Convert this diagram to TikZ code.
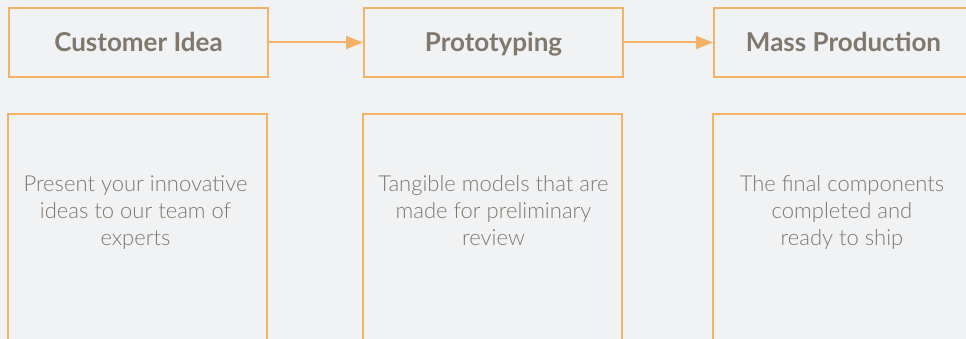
\documentclass[tikz,border=0pt]{standalone}
\usepackage{fontspec}
\setmainfont{Lato}
\newfontfamily\lightfont{Lato Light}
\usetikzlibrary{arrows.meta}
\definecolor{bg}{RGB}{241,242,244}
\definecolor{edge}{RGB}{244,178,102}
\definecolor{ink}{RGB}{128,120,108}
\tikzset{
  head/.style={draw=edge, line width=2pt, minimum width=259pt, minimum height=69pt, inner sep=0pt,
    text=ink, font=\fontsize{26}{30}\selectfont\bfseries, text height=25pt, text depth=6pt},
  panel/.style={draw=edge, line width=2pt, minimum width=259pt, minimum height=240pt, inner sep=0pt, anchor=north},
  body/.style={text=ink, font=\lightfont\fontsize{22}{27}\selectfont, align=center, anchor=north, inner sep=0pt},
  link/.style={draw=edge, line width=2pt, -{Triangle[length=17pt,width=13pt]}}
}
\begin{document}
\begin{tikzpicture}[x=1pt,y=-1pt]
\fill[bg] (0,0) rectangle (966,339);
\useasboundingbox (0,0) rectangle (966,339);
\node[head] (h1) at (138.5,42.5) {Customer Idea};
\node[head] (h2) at (493.5,42.5) {Prototyping};
\node[head] (h3) at (843.5,42.5) {Mass Production};
\node[panel] (p1) at (137.5,113) {};
\node[panel] (p2) at (492.5,113) {};
\node[panel] (p3) at (842.5,113) {};
\node[body] (t1) at (135.5,175) {Present your innovative\\ideas to our team of\\experts};
\node[body] (t2) at (493.5,175) {Tangible models that are\\made for preliminary\\review};
\node[body] (t3) at (842,175) {The final components\\completed and\\ready to ship};
\draw[link] (h1.east) -- (h2.west);
\draw[link] (h2.east) -- (h3.west);
\end{tikzpicture}
\end{document}
